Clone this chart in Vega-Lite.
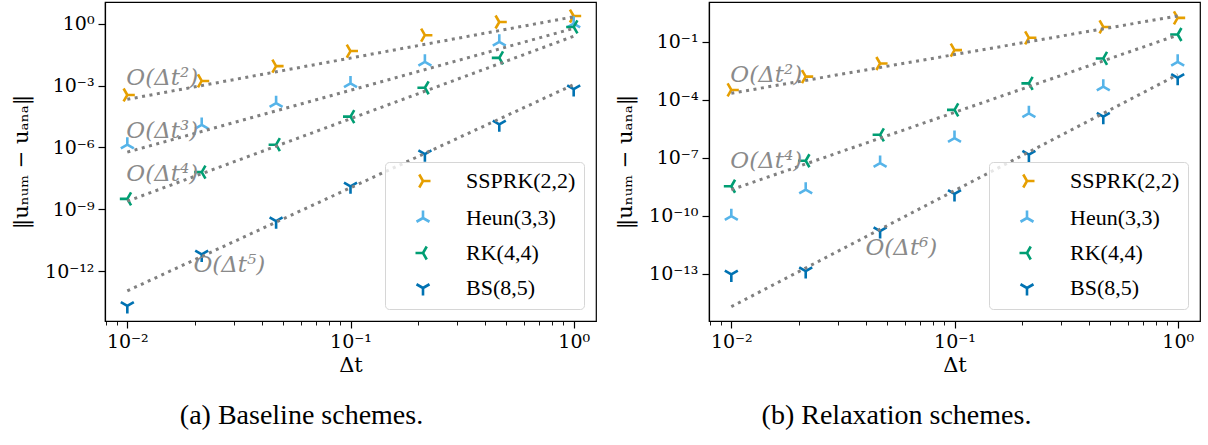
{
  "$schema": "https://vega.github.io/schema/vega-lite/v6.json",
  "background": "white",
  "padding": {"left": 9, "top": 1, "right": 0, "bottom": 0},
  "config": {
    "font": "Liberation Serif",
    "view": {"stroke": "black", "strokeWidth": 1.2},
    "axis": {
      "grid": false,
      "domainColor": "black",
      "domainWidth": 1.2,
      "tickColor": "black",
      "labelColor": "black",
      "titleColor": "black",
      "labelFont": "DejaVu Serif",
      "labelFontSize": 19,
      "titleFont": "DejaVu Serif",
      "titleFontSize": 21,
      "titleFontWeight": "normal",
      "labelPadding": 4,
      "labelOverlap": false,
      "labelFlush": false
    },
    "axisY": {"titleX": -84, "titleBaseline": "middle", "titleAngle": -90},
    "legend": {
      "orient": "bottom-right",
      "offset": 12,
      "fillColor": "rgba(255,255,255,0.8)",
      "strokeColor": "#d6d6d6",
      "cornerRadius": 4,
      "padding": 8,
      "labelFont": "Liberation Serif",
      "labelFontSize": 22,
      "labelColor": "black",
      "labelLimit": 400,
      "rowPadding": 12,
      "symbolSize": 225,
      "symbolStrokeWidth": 2.6,
      "symbolOffset": 19,
      "labelOffset": 32
    },
    "title": {"font": "Liberation Serif", "fontSize": 28, "fontWeight": "normal", "color": "black"}
  },
  "datasets": {
    "pts_a": [
      {"method": "SSPRK(2,2)", "dt": 0.01, "err": 3.47e-4},
      {"method": "SSPRK(2,2)", "dt": 0.021544, "err": 1.66e-3},
      {"method": "SSPRK(2,2)", "dt": 0.046416, "err": 8.71e-3},
      {"method": "SSPRK(2,2)", "dt": 0.1, "err": 4.68e-2},
      {"method": "SSPRK(2,2)", "dt": 0.215443, "err": 0.275},
      {"method": "SSPRK(2,2)", "dt": 0.464159, "err": 1.2},
      {"method": "SSPRK(2,2)", "dt": 1.0, "err": 2.34},
      {"method": "Heun(3,3)", "dt": 0.01, "err": 1.35e-6},
      {"method": "Heun(3,3)", "dt": 0.021544, "err": 1.23e-5},
      {"method": "Heun(3,3)", "dt": 0.046416, "err": 1.38e-4},
      {"method": "Heun(3,3)", "dt": 0.1, "err": 1.26e-3},
      {"method": "Heun(3,3)", "dt": 0.215443, "err": 1.41e-2},
      {"method": "Heun(3,3)", "dt": 0.464159, "err": 0.132},
      {"method": "Heun(3,3)", "dt": 1.0, "err": 1.0},
      {"method": "RK(4,4)", "dt": 0.01, "err": 3.16e-9},
      {"method": "RK(4,4)", "dt": 0.021544, "err": 6.31e-8},
      {"method": "RK(4,4)", "dt": 0.046416, "err": 1.35e-6},
      {"method": "RK(4,4)", "dt": 0.1, "err": 3.09e-5},
      {"method": "RK(4,4)", "dt": 0.215443, "err": 7.76e-4},
      {"method": "RK(4,4)", "dt": 0.464159, "err": 2.19e-2},
      {"method": "RK(4,4)", "dt": 1.0, "err": 0.692},
      {"method": "BS(8,5)", "dt": 0.01, "err": 2.04e-14},
      {"method": "BS(8,5)", "dt": 0.021544, "err": 6.46e-12},
      {"method": "BS(8,5)", "dt": 0.046416, "err": 2.63e-10},
      {"method": "BS(8,5)", "dt": 0.1, "err": 1.29e-8},
      {"method": "BS(8,5)", "dt": 0.215443, "err": 4.68e-7},
      {"method": "BS(8,5)", "dt": 0.464159, "err": 1.32e-5},
      {"method": "BS(8,5)", "dt": 1.0, "err": 6.76e-4}
    ],
    "ref_a": [
      {"order": "2", "dt": 0.01, "err": 2.14e-4},
      {"order": "2", "dt": 1.0, "err": 2.14},
      {"order": "3", "dt": 0.01, "err": 5.89e-7},
      {"order": "3", "dt": 1.0, "err": 0.589},
      {"order": "4", "dt": 0.01, "err": 2.45e-9},
      {"order": "4", "dt": 1.0, "err": 0.245},
      {"order": "5", "dt": 0.01, "err": 1.10e-13},
      {"order": "5", "dt": 1.0, "err": 1.10e-3}
    ],
    "lab_a": [
      {"label": "O(Δt²)", "dt": 0.0099, "err": 2.4e-3},
      {"label": "O(Δt³)", "dt": 0.0099, "err": 6.3e-6},
      {"label": "O(Δt⁴)", "dt": 0.0099, "err": 5.1e-8},
      {"label": "O(Δt⁵)", "dt": 0.01977, "err": 2.0e-12}
    ],
    "pts_b": [
      {"method": "SSPRK(2,2)", "dt": 0.01, "err": 3.24e-4},
      {"method": "SSPRK(2,2)", "dt": 0.021544, "err": 1.58e-3},
      {"method": "SSPRK(2,2)", "dt": 0.046416, "err": 7.59e-3},
      {"method": "SSPRK(2,2)", "dt": 0.1, "err": 3.72e-2},
      {"method": "SSPRK(2,2)", "dt": 0.215443, "err": 0.162},
      {"method": "SSPRK(2,2)", "dt": 0.464159, "err": 0.589},
      {"method": "SSPRK(2,2)", "dt": 1.0, "err": 1.74},
      {"method": "Heun(3,3)", "dt": 0.01, "err": 9.55e-11},
      {"method": "Heun(3,3)", "dt": 0.021544, "err": 2.24e-9},
      {"method": "Heun(3,3)", "dt": 0.046416, "err": 5.37e-8},
      {"method": "Heun(3,3)", "dt": 0.1, "err": 1.05e-6},
      {"method": "Heun(3,3)", "dt": 0.215443, "err": 2.0e-5},
      {"method": "Heun(3,3)", "dt": 0.464159, "err": 4.79e-4},
      {"method": "Heun(3,3)", "dt": 1.0, "err": 9.33e-3},
      {"method": "RK(4,4)", "dt": 0.01, "err": 3.39e-9},
      {"method": "RK(4,4)", "dt": 0.021544, "err": 7.08e-8},
      {"method": "RK(4,4)", "dt": 0.046416, "err": 1.55e-6},
      {"method": "RK(4,4)", "dt": 0.1, "err": 3.02e-5},
      {"method": "RK(4,4)", "dt": 0.215443, "err": 7.08e-4},
      {"method": "RK(4,4)", "dt": 0.464159, "err": 1.38e-2},
      {"method": "RK(4,4)", "dt": 1.0, "err": 0.24},
      {"method": "BS(8,5)", "dt": 0.01, "err": 9.33e-14},
      {"method": "BS(8,5)", "dt": 0.021544, "err": 1.38e-13},
      {"method": "BS(8,5)", "dt": 0.046416, "err": 1.62e-11},
      {"method": "BS(8,5)", "dt": 0.1, "err": 1.35e-9},
      {"method": "BS(8,5)", "dt": 0.215443, "err": 1.45e-7},
      {"method": "BS(8,5)", "dt": 0.464159, "err": 1.35e-5},
      {"method": "BS(8,5)", "dt": 1.0, "err": 1.38e-3}
    ],
    "ref_b": [
      {"order": "2", "dt": 0.01, "err": 2.19e-4},
      {"order": "2", "dt": 1.0, "err": 2.19},
      {"order": "4", "dt": 0.01, "err": 2.24e-9},
      {"order": "4", "dt": 1.0, "err": 0.224},
      {"order": "6", "dt": 0.01, "err": 2.0e-15},
      {"order": "6", "dt": 1.0, "err": 2.0e-3}
    ],
    "lab_b": [
      {"label": "O(Δt²)", "dt": 0.0099, "err": 1.9e-3},
      {"label": "O(Δt⁴)", "dt": 0.0099, "err": 7.1e-8},
      {"label": "O(Δt⁶)", "dt": 0.0399, "err": 2.24e-12}
    ]
  },
  "bounds": "flush",
  "spacing": 113,
  "resolve": {"scale": {"color": "independent", "shape": "independent", "x": "independent", "y": "independent"}},
  "hconcat": [
    {
      "width": 491,
      "height": 319,
      "title": {"text": "(a) Baseline schemes.", "orient": "bottom", "anchor": "middle", "dx": -49, "offset": 27},
      "layer": [
        {
          "data": {"name": "pts_a"},
          "mark": {"type": "point", "filled": false, "strokeWidth": 2.6, "size": 225, "opacity": 1},
          "encoding": {
            "x": {"field": "dt", "type": "quantitative",
              "scale": {"type": "log", "domain": [0.0079433, 1.2589], "nice": false},
              "axis": {"title": "Δt", "titlePadding": 3,
                "values": [0.008, 0.009, 0.01, 0.02, 0.03, 0.04, 0.05, 0.06, 0.07, 0.08, 0.09, 0.1, 0.2, 0.3, 0.4, 0.5, 0.6, 0.7, 0.8, 0.9, 1],
                "labelExpr": "abs(log(datum.value)/LN10 + 2) < 1e-6 ? '10⁻²' : abs(log(datum.value)/LN10 + 1) < 1e-6 ? '10⁻¹' : abs(log(datum.value)/LN10) < 1e-6 ? '10⁰' : ''",
                "tickSize": {"condition": {"test": "abs(log(datum.value)/LN10 - round(log(datum.value)/LN10)) < 1e-6", "value": 7}, "value": 4},
                "tickWidth": {"condition": {"test": "abs(log(datum.value)/LN10 - round(log(datum.value)/LN10)) < 1e-6", "value": 1.2}, "value": 0.9}}},
            "y": {"field": "err", "type": "quantitative",
              "scale": {"type": "log", "domain": [3.8e-15, 11.2], "nice": false},
              "axis": {"title": "‖uₙᵤₘ − uₐₙₐ‖", "tickSize": 7, "tickWidth": 1.2,
                "values": [1, 1e-3, 1e-6, 1e-9, 1e-12],
                "labelExpr": "round(log(datum.value)/LN10) == 0 ? '10⁰' : round(log(datum.value)/LN10) == -3 ? '10⁻³' : round(log(datum.value)/LN10) == -6 ? '10⁻⁶' : round(log(datum.value)/LN10) == -9 ? '10⁻⁹' : '10⁻¹²'"}},
            "color": {"field": "method", "type": "nominal",
              "scale": {"domain": ["SSPRK(2,2)", "Heun(3,3)", "RK(4,4)", "BS(8,5)"], "range": ["#E69F00", "#56B4E9", "#009E73", "#0072B2"]},
              "legend": {"title": null}},
            "shape": {"field": "method", "type": "nominal",
              "scale": {"domain": ["SSPRK(2,2)", "Heun(3,3)", "RK(4,4)", "BS(8,5)"],
                "range": ["M0,0L1,0M0,0L-0.5,-0.866M0,0L-0.5,0.866", "M0,0L0,-1M0,0L-0.866,0.5M0,0L0.866,0.5", "M0,0L-1,0M0,0L0.5,-0.866M0,0L0.5,0.866", "M0,0L0,1M0,0L-0.866,-0.5M0,0L0.866,-0.5"]},
              "legend": {"title": null}}
          }
        },
        {
          "data": {"name": "ref_a"},
          "mark": {"type": "line", "color": "#808080", "strokeWidth": 3, "strokeDash": [3, 4.5]},
          "encoding": {
            "x": {"field": "dt", "type": "quantitative"},
            "y": {"field": "err", "type": "quantitative"},
            "detail": {"field": "order", "type": "nominal"}
          }
        },
        {
          "data": {"name": "lab_a"},
          "mark": {"type": "text", "align": "left", "baseline": "middle", "color": "#8a8a8a", "fontSize": 23, "fontStyle": "italic", "font": "DejaVu Serif"},
          "encoding": {
            "x": {"field": "dt", "type": "quantitative"},
            "y": {"field": "err", "type": "quantitative"},
            "text": {"field": "label", "type": "nominal"}
          }
        }
      ]
    },
    {
      "width": 491,
      "height": 319,
      "title": {"text": "(b) Relaxation schemes.", "orient": "bottom", "anchor": "middle", "dx": -58, "offset": 27},
      "layer": [
        {
          "data": {"name": "pts_b"},
          "mark": {"type": "point", "filled": false, "strokeWidth": 2.6, "size": 225, "opacity": 1},
          "encoding": {
            "x": {"field": "dt", "type": "quantitative",
              "scale": {"type": "log", "domain": [0.0079433, 1.2589], "nice": false},
              "axis": {"title": "Δt", "titlePadding": 3,
                "values": [0.008, 0.009, 0.01, 0.02, 0.03, 0.04, 0.05, 0.06, 0.07, 0.08, 0.09, 0.1, 0.2, 0.3, 0.4, 0.5, 0.6, 0.7, 0.8, 0.9, 1],
                "labelExpr": "abs(log(datum.value)/LN10 + 2) < 1e-6 ? '10⁻²' : abs(log(datum.value)/LN10 + 1) < 1e-6 ? '10⁻¹' : abs(log(datum.value)/LN10) < 1e-6 ? '10⁰' : ''",
                "tickSize": {"condition": {"test": "abs(log(datum.value)/LN10 - round(log(datum.value)/LN10)) < 1e-6", "value": 7}, "value": 4},
                "tickWidth": {"condition": {"test": "abs(log(datum.value)/LN10 - round(log(datum.value)/LN10)) < 1e-6", "value": 1.2}, "value": 0.9}}},
            "y": {"field": "err", "type": "quantitative",
              "scale": {"type": "log", "domain": [3.63e-16, 11.5], "nice": false},
              "axis": {"title": "‖uₙᵤₘ − uₐₙₐ‖", "tickSize": 7, "tickWidth": 1.2,
                "values": [0.1, 1e-4, 1e-7, 1e-10, 1e-13],
                "labelExpr": "round(log(datum.value)/LN10) == -1 ? '10⁻¹' : round(log(datum.value)/LN10) == -4 ? '10⁻⁴' : round(log(datum.value)/LN10) == -7 ? '10⁻⁷' : round(log(datum.value)/LN10) == -10 ? '10⁻¹⁰' : '10⁻¹³'"}},
            "color": {"field": "method", "type": "nominal",
              "scale": {"domain": ["SSPRK(2,2)", "Heun(3,3)", "RK(4,4)", "BS(8,5)"], "range": ["#E69F00", "#56B4E9", "#009E73", "#0072B2"]},
              "legend": {"title": null}},
            "shape": {"field": "method", "type": "nominal",
              "scale": {"domain": ["SSPRK(2,2)", "Heun(3,3)", "RK(4,4)", "BS(8,5)"],
                "range": ["M0,0L1,0M0,0L-0.5,-0.866M0,0L-0.5,0.866", "M0,0L0,-1M0,0L-0.866,0.5M0,0L0.866,0.5", "M0,0L-1,0M0,0L0.5,-0.866M0,0L0.5,0.866", "M0,0L0,1M0,0L-0.866,-0.5M0,0L0.866,-0.5"]},
              "legend": {"title": null}}
          }
        },
        {
          "data": {"name": "ref_b"},
          "mark": {"type": "line", "color": "#808080", "strokeWidth": 3, "strokeDash": [3, 4.5]},
          "encoding": {
            "x": {"field": "dt", "type": "quantitative"},
            "y": {"field": "err", "type": "quantitative"},
            "detail": {"field": "order", "type": "nominal"}
          }
        },
        {
          "data": {"name": "lab_b"},
          "mark": {"type": "text", "align": "left", "baseline": "middle", "color": "#8a8a8a", "fontSize": 23, "fontStyle": "italic", "font": "DejaVu Serif"},
          "encoding": {
            "x": {"field": "dt", "type": "quantitative"},
            "y": {"field": "err", "type": "quantitative"},
            "text": {"field": "label", "type": "nominal"}
          }
        }
      ]
    }
  ]
}
